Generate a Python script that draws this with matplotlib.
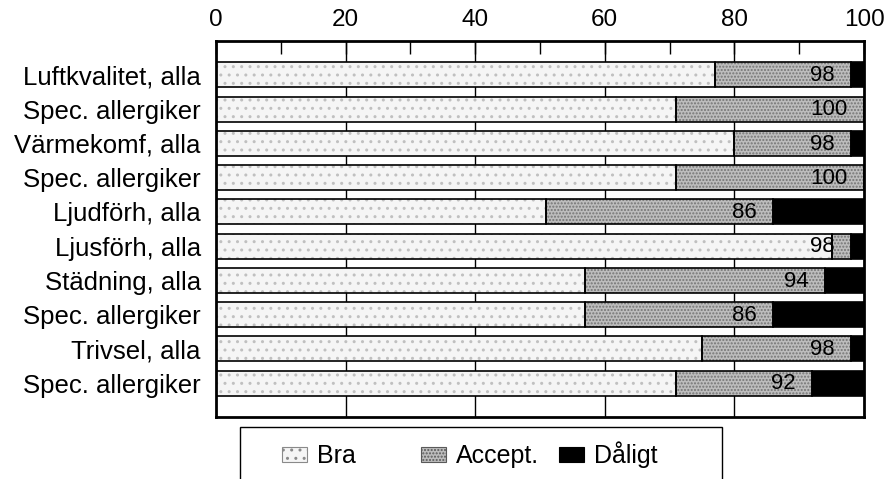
import matplotlib
matplotlib.use("Agg")
import matplotlib.pyplot as plt
from matplotlib.patches import Rectangle, Patch
import numpy as np

plt.rcParams['font.family'] = ['Liberation Sans', 'DejaVu Sans']

categories = ["Luftkvalitet, alla", "Spec. allergiker", "Värmekomf, alla",
              "Spec. allergiker", "Ljudförh, alla", "Ljusförh, alla",
              "Städning, alla", "Spec. allergiker", "Trivsel, alla",
              "Spec. allergiker"]
bra = [77, 71, 80, 71, 51, 95, 57, 57, 75, 71]
accept = [21, 29, 18, 29, 35, 3, 37, 29, 23, 21]
daligt = [2, 0, 2, 0, 14, 2, 6, 14, 2, 8]
value_labels = ["98", "100", "98", "100", "86", "98", "94", "86", "98", "92"]
xticks = [0, 20, 40, 60, 80, 100]
legend_labels = ["Bra", "Accept.", "Dåligt"]

W, H = 885, 479
fig = plt.figure(figsize=(W / 100, H / 100), dpi=100)
ax = fig.add_axes([216 / W, 1 - 416.5 / H, (864 - 216) / W, (416.5 - 41) / H])

y = np.arange(len(categories))
bra_a = np.array(bra)
acc_a = np.array(accept)
dal_a = np.array(daligt)
h = 0.73

bra_fc, bra_hc = '#f5f5f5', '#c0c0c0'
acc_fc, acc_hc = '#bdbdbd', '#747474'

ax.barh(y, bra_a, height=h, color=bra_fc, edgecolor=bra_hc, hatch='..',
        linewidth=0, zorder=2)
ax.barh(y, acc_a, left=bra_a, height=h, color=acc_fc, edgecolor=acc_hc,
        hatch='.....', linewidth=0, zorder=2)
ax.barh(y, dal_a, left=bra_a + acc_a, height=h, color='black',
        linewidth=0, zorder=2)
for vals, lefts in [(bra_a, 0), (acc_a, bra_a), (dal_a, bra_a + acc_a)]:
    ax.barh(y, vals, left=lefts, height=h, fill=False, edgecolor='black',
            linewidth=1.2, zorder=3)

for yi, cum, lab in zip(y, bra_a + acc_a, value_labels):
    ax.text(cum - 2.5, yi + 0.02, lab, ha='right', va='center', fontsize=16,
            zorder=4)

ax.set_xlim(0, 100)
ax.set_ylim(len(categories) - 0.03, -0.985)
ax.set_yticks(y)
ax.set_yticklabels(categories, fontsize=18.5)
ax.tick_params(axis='y', length=0, pad=11)
ax.xaxis.tick_top()
ax.set_xticks(xticks)
ax.set_xticklabels([str(t) for t in xticks], fontsize=17.5)
ax.set_xticks(np.arange(10, 100, 20), minor=True)
ax.tick_params(axis='x', which='both', direction='in', length=9, width=1,
               pad=7, top=True, bottom=False)
for gx in xticks[1:-1]:
    ax.axvline(gx, color='black', linewidth=1.0, zorder=1)
for s in ax.spines.values():
    s.set_linewidth(2.0)

fig.patches.append(Rectangle((240 / W, 1 - 495 / H), (722 - 240) / W, (495 - 427) / H,
                             transform=fig.transFigure, fill=False,
                             edgecolor='black', linewidth=1.0))
handles = [Patch(facecolor=bra_fc, edgecolor='#8a8a8a', hatch='..', linewidth=0.8),
           Patch(facecolor=acc_fc, edgecolor='#5a5a5a', hatch='.....', linewidth=0.8),
           Patch(facecolor='black', edgecolor='black', linewidth=0.8)]
starts = [282, 421, 559]
for hd, lab, sx in zip(handles, legend_labels, starts):
    fig.legend([hd], [lab], loc='lower left',
               bbox_to_anchor=(sx / W, 1 - 468 / H), frameon=False,
               fontsize=18, handlelength=1.0, handleheight=0.55,
               handletextpad=0.4, borderpad=0, borderaxespad=0)

fig.savefig("out.png", dpi=100)
